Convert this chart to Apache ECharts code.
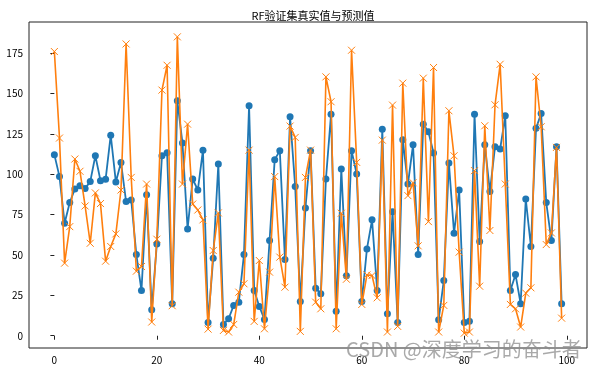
<!DOCTYPE html>
<html>
<head>
<meta charset="utf-8">
<script src="https://cdn.jsdelivr.net/npm/echarts@6/dist/echarts.min.js"></script>
<style>html,body{margin:0;padding:0;background:#fff;}#c{width:594px;height:370px;}</style>
</head>
<body>
<div id="c"></div>
<script>
const titleText = 'RF验证集真实值与预测值';
const xTicks = [0, 20, 40, 60, 80, 100];
const yTicks = [0, 25, 50, 75, 100, 125, 150, 175];
const trueVals = [112.2, 98.6, 69.7, 82.5, 90.9, 93, 91.3, 95.5, 111.5, 96.1,
  96.9, 124.3, 95.3, 107.4, 83.1, 84.1, 50.3, 28, 87.4, 16.1,
  56.9, 111.5, 113.4, 19.8, 145.6, 119.4, 66.2, 97.1, 90.3, 115,
  8.2, 48, 106.4, 7, 10.5, 18.8, 20.8, 50.3, 142.5, 28,
  18.1, 10.1, 59, 109.1, 114.6, 47.2, 135.7, 92.4, 21.2, 79.2,
  114.6, 29.5, 26, 97.1, 137.3, 15.1, 103.3, 37.1, 114.6, 100.2,
  21.2, 53.8, 71.8, 28, 128, 13.6, 76.9, 8.2, 121.4, 94,
  118.4, 50.3, 131.1, 126.4, 113.2, 9.9, 34.2, 107, 63.5, 90.3,
  8.2, 8.9, 137.3, 58.4, 118.4, 89.3, 117.1, 115.7, 136.3, 28,
  37.9, 19.8, 84.7, 55.3, 128.5, 137.7, 82.5, 59, 117.1, 19.8];
const predVals = [176.1, 122.5, 45, 67.6, 109.5, 101.9, 80.4, 57.3, 88.5, 81.9,
  46.2, 55.3, 63.1, 90.3, 180.8, 98.1, 40, 42.9, 94, 8.5,
  59.8, 152.2, 167.6, 18.6, 185.2, 94, 131.1, 81.6, 77.9, 71.8,
  4.1, 52.8, 76.1, 3.3, 2.3, 7, 27, 32.2, 115, 8.9,
  46.6, 4.3, 39.4, 98.6, 48.7, 30.1, 129.9, 122.9, 2.7, 98.1,
  115, 20.8, 16.7, 160.4, 145, 4.3, 75.9, 35, 176.9, 107.4,
  19.4, 37.7, 37.3, 23.5, 121.2, 2.3, 142.9, 5.8, 156.5, 86.8,
  94.8, 55.7, 159.6, 70.7, 166.2, 2.3, 18.8, 139.4, 111.5, 51.8,
  1.6, 2.3, 102.3, 30.7, 130.1, 65.2, 143.1, 168.2, 94, 19.4,
  16.7, 5.4, 26.4, 29.7, 160.4, 129.5, 56.5, 63.7, 116.7, 10.9];

const font = '"Noto Sans CJK SC", "DejaVu Sans", sans-serif';
const chart = echarts.init(document.getElementById('c'), null, {renderer: 'canvas'});
chart.setOption({
  animation: false,
  backgroundColor: '#fff',
  title: {
    text: titleText, left: 308, top: 5, textAlign: 'center',
    textStyle: {fontFamily: font, fontSize: 11, fontWeight: 'normal', color: '#000'}
  },
  grid: {left: 29, right: 7, top: 22, bottom: 22, show: true, borderColor: '#222', borderWidth: 1, backgroundColor: 'transparent'},
  xAxis: {
    type: 'value', min: -4.95, max: 103.95,
    axisLine: {show: false},
    splitLine: {show: false},
    axisTick: {show: true, inside: false, length: 4, customValues: xTicks, lineStyle: {color: '#222'}},
    axisLabel: {customValues: xTicks, margin: 7, fontFamily: font, fontSize: 10, color: '#000'}
  },
  yAxis: {
    type: 'value', min: -7.6, max: 194.4,
    axisLine: {show: false},
    splitLine: {show: false},
    axisTick: {show: true, inside: false, length: 4, customValues: yTicks, lineStyle: {color: '#222'}},
    axisLabel: {customValues: yTicks, margin: 6, fontFamily: font, fontSize: 10, color: '#000'}
  },
  graphic: [{
    type: 'text', left: 346, top: 339, z: 100,
    style: {text: 'CSDN @深度学习的奋斗者', fontFamily: font, fontSize: 20, fill: 'rgba(140,140,140,0.75)'}
  }],
  series: [
    {
      type: 'line', name: '真实值',
      data: trueVals.map((v, i) => [i, v]),
      symbol: 'circle', symbolSize: 7,
      lineStyle: {color: '#1f77b4', width: 1.8},
      itemStyle: {color: '#1f77b4'},
      z: 2
    },
    {
      type: 'line', name: '预测值',
      data: predVals.map((v, i) => [i, v]),
      symbol: 'path://M0,0L10,10M10,0L0,10', symbolSize: 7,
      lineStyle: {color: '#ff7f0e', width: 1.6},
      itemStyle: {color: 'rgba(0,0,0,0)', borderColor: '#ff7f0e', borderWidth: 1},
      z: 3
    }
  ]
});
</script>
</body>
</html>
